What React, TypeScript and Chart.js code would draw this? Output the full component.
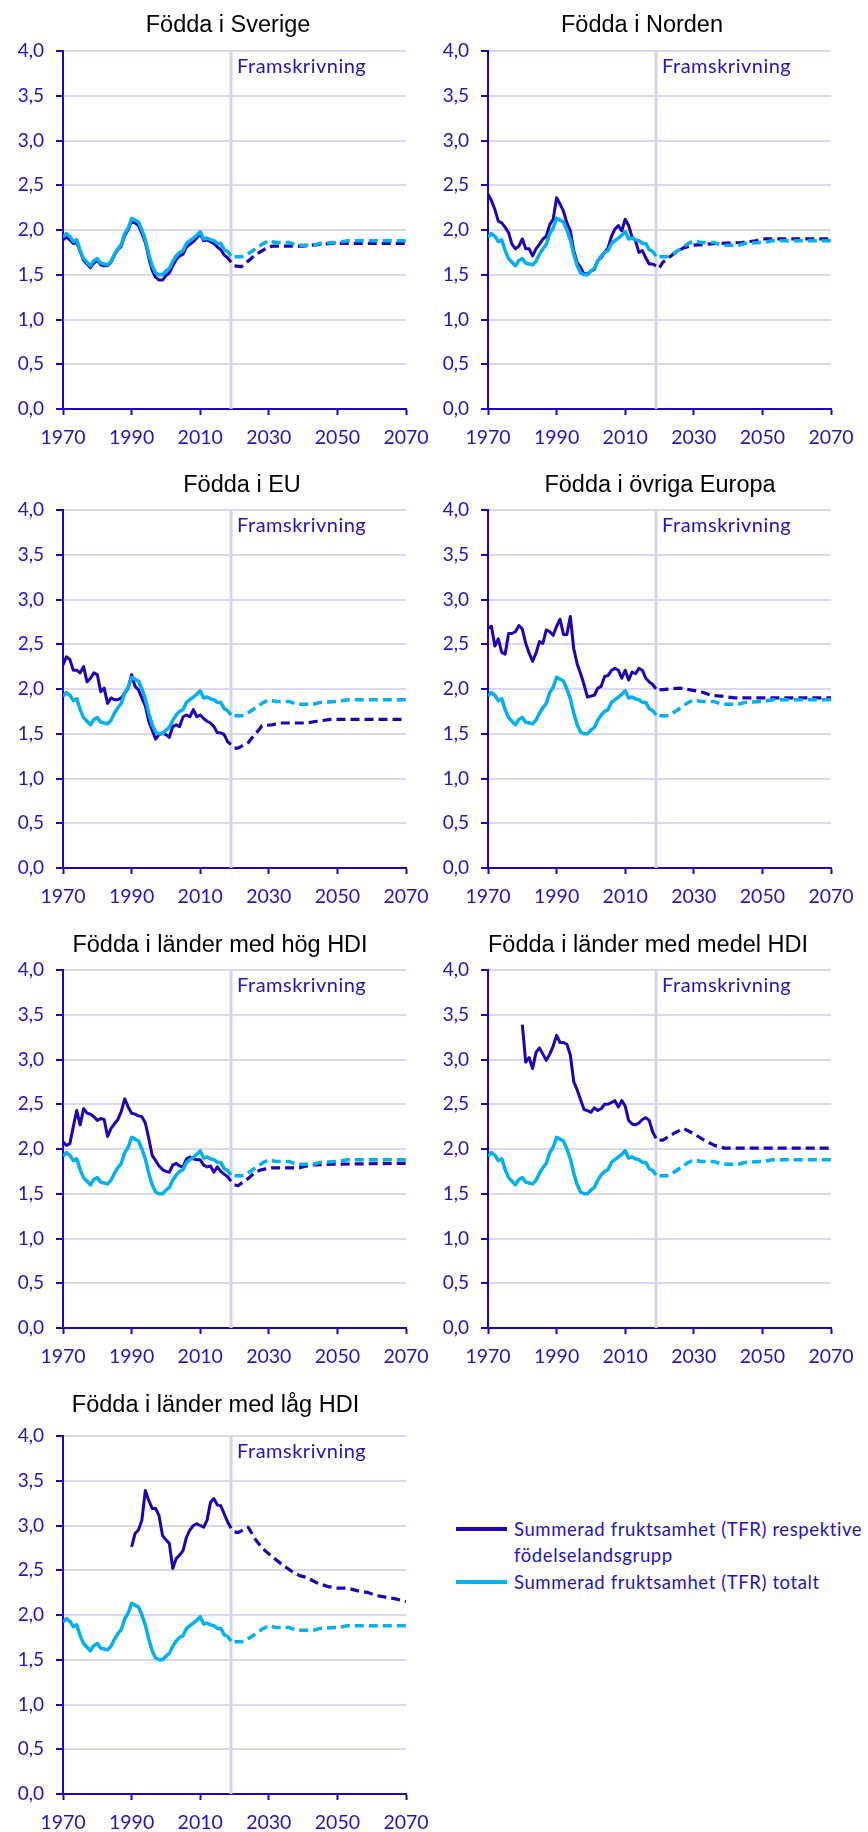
import React, { useEffect, useRef } from "react";
import { Chart, registerables } from "chart.js";

Chart.register(...registerables);

// ---------- colours ----------
const DARK = "#2200B8";
const LIGHT = "#00B0F0";
const AXIS = "#2200C8";
const TEXT = "#2412C4";
const GRID = "#D9D9F2";
const VLINE = "#D4D4EE";

// ---------- axis ----------
const X_MIN = 1970;
const X_MAX = 2070;
const X_STEP = 20;
const Y_MIN = 0;
const Y_MAX = 4;
const Y_STEP = 0.5;
const PROJECTION_START = 2019;
const PROJECTION_LABEL = "Framskrivning";

// ---------- data: total TFR (light blue) ----------
const TOTAL_HIST_START = 1970;
const TOTAL_HIST = [
  1.92, 1.96, 1.93, 1.87, 1.89, 1.77, 1.68, 1.64, 1.6, 1.66,
  1.68, 1.63, 1.62, 1.61, 1.65, 1.73, 1.79, 1.84, 1.96, 2.02,
  2.13, 2.11, 2.09, 2.0, 1.89, 1.73, 1.6, 1.52, 1.5, 1.5,
  1.54, 1.57, 1.65, 1.71, 1.75, 1.77, 1.85, 1.88, 1.91, 1.94,
  1.98, 1.9, 1.91, 1.89, 1.88, 1.85, 1.85, 1.78, 1.76, 1.71,
];
const TOTAL_PROJ_YEARS = [2020, 2022, 2023, 2025, 2028, 2030, 2032, 2036, 2038, 2043, 2045, 2050, 2053, 2070];
const TOTAL_PROJ = [1.7, 1.7, 1.71, 1.76, 1.84, 1.88, 1.86, 1.86, 1.83, 1.83, 1.85, 1.86, 1.88, 1.88];

// ---------- data: Födda i Sverige ----------
const SVERIGE_HIST_START = 1970;
const SVERIGE_HIST = [
  1.89, 1.92, 1.89, 1.85, 1.86, 1.76, 1.66, 1.62, 1.58, 1.63,
  1.66, 1.61, 1.6, 1.6, 1.64, 1.72, 1.78, 1.82, 1.94, 2.0,
  2.1, 2.08, 2.05, 1.96, 1.86, 1.69, 1.55, 1.47, 1.44, 1.44,
  1.49, 1.52, 1.6, 1.67, 1.71, 1.73, 1.81, 1.84, 1.87, 1.91,
  1.96, 1.88, 1.89, 1.87, 1.85, 1.81, 1.78, 1.72, 1.69, 1.64,
];
const SVERIGE_PROJ_YEARS = [2020, 2022, 2023, 2026, 2029, 2031, 2040, 2042, 2045, 2049, 2070];
const SVERIGE_PROJ = [1.6, 1.59, 1.62, 1.72, 1.79, 1.82, 1.82, 1.83, 1.84, 1.85, 1.85];

// ---------- data: Födda i Norden ----------
const NORDEN_HIST_START = 1970;
const NORDEN_HIST = [
  2.4, 2.33, 2.23, 2.1, 2.08, 2.03, 1.97, 1.84, 1.79, 1.82,
  1.9, 1.79, 1.79, 1.71, 1.79, 1.84, 1.9, 1.93, 2.06, 2.12,
  2.36, 2.29, 2.21, 2.08, 1.99, 1.77, 1.64, 1.58, 1.51, 1.51,
  1.54, 1.56, 1.66, 1.69, 1.75, 1.8, 1.93, 2.01, 2.05, 1.99,
  2.12, 2.05, 1.92, 1.88, 1.75, 1.77, 1.69, 1.62, 1.62, 1.6,
];
const NORDEN_PROJ_YEARS = [2020, 2021, 2024, 2027, 2030, 2037, 2044, 2048, 2050, 2070];
const NORDEN_PROJ = [1.58, 1.64, 1.73, 1.8, 1.83, 1.85, 1.86, 1.88, 1.9, 1.9];

// ---------- data: Födda i EU ----------
const EU_HIST_START = 1970;
const EU_HIST = [
  2.27, 2.36, 2.33, 2.21, 2.21, 2.18, 2.25, 2.08, 2.12, 2.18,
  2.16, 1.97, 2.01, 1.84, 1.9, 1.88, 1.88, 1.9, 1.95, 2.01,
  2.16, 2.03, 1.99, 1.9, 1.81, 1.64, 1.54, 1.44, 1.49, 1.51,
  1.49, 1.46, 1.58, 1.6, 1.58, 1.69, 1.71, 1.69, 1.77, 1.69,
  1.71, 1.67, 1.64, 1.62, 1.58, 1.51, 1.51, 1.49, 1.41, 1.38,
];
const EU_PROJ_YEARS = [2020, 2021, 2024, 2025, 2027, 2028, 2031, 2033, 2041, 2044, 2048, 2070];
const EU_PROJ = [1.34, 1.34, 1.4, 1.45, 1.54, 1.59, 1.6, 1.62, 1.62, 1.64, 1.66, 1.66];

// ---------- data: Födda i övriga Europa ----------
const OVRIGA_HIST_START = 1970;
const OVRIGA_HIST = [
  2.68, 2.7, 2.48, 2.56, 2.41, 2.39, 2.62, 2.62, 2.64, 2.71,
  2.67, 2.51, 2.4, 2.31, 2.4, 2.53, 2.51, 2.66, 2.64, 2.6,
  2.7, 2.78, 2.61, 2.61, 2.81, 2.45, 2.28, 2.17, 2.05, 1.91,
  1.92, 1.93, 2.01, 2.03, 2.14, 2.15, 2.21, 2.23, 2.21, 2.12,
  2.21, 2.1, 2.19, 2.17, 2.23, 2.21, 2.12, 2.08, 2.05, 2.0,
];
const OVRIGA_PROJ_YEARS = [2020, 2023, 2026, 2029, 2032, 2035, 2038, 2042, 2070];
const OVRIGA_PROJ = [1.99, 2.0, 2.01, 1.99, 1.97, 1.93, 1.92, 1.9, 1.9];

// ---------- data: Födda i länder med hög HDI ----------
const HOG_HIST_START = 1970;
const HOG_HIST = [
  2.08, 2.04, 2.06, 2.25, 2.43, 2.27, 2.45, 2.4, 2.39, 2.36,
  2.32, 2.34, 2.33, 2.14, 2.23, 2.28, 2.33, 2.42, 2.56, 2.47,
  2.4, 2.39, 2.37, 2.36, 2.29, 2.12, 1.93, 1.87, 1.81, 1.77,
  1.75, 1.74, 1.82, 1.84, 1.81, 1.8, 1.89, 1.91, 1.89, 1.88,
  1.88, 1.82, 1.8, 1.81, 1.74, 1.8, 1.75, 1.72, 1.69, 1.64,
];
const HOG_PROJ_YEARS = [2020, 2021, 2024, 2026, 2028, 2031, 2039, 2042, 2048, 2070];
const HOG_PROJ = [1.6, 1.59, 1.67, 1.74, 1.77, 1.79, 1.79, 1.82, 1.83, 1.84];

// ---------- data: Födda i länder med medel HDI ----------
const MEDEL_HIST_START = 1980;
const MEDEL_HIST = [
  3.39, 2.97, 3.02, 2.9, 3.08, 3.13, 3.06, 2.99, 3.06, 3.15,
  3.27, 3.19, 3.19, 3.17, 3.05, 2.75, 2.66, 2.55, 2.44, 2.43,
  2.41, 2.46, 2.43, 2.45, 2.5, 2.5, 2.52, 2.54, 2.47, 2.54,
  2.48, 2.32, 2.28, 2.27, 2.29, 2.33, 2.35, 2.32, 2.19, 2.12,
];
const MEDEL_PROJ_YEARS = [2020, 2021, 2024, 2027, 2030, 2033, 2036, 2039, 2070];
const MEDEL_PROJ = [2.1, 2.1, 2.17, 2.23, 2.17, 2.1, 2.04, 2.01, 2.01];

// ---------- data: Födda i länder med låg HDI ----------
const LAG_HIST_START = 1990;
const LAG_HIST = [
  2.76, 2.91, 2.95, 3.06, 3.39, 3.28, 3.19, 3.19, 3.11, 2.89,
  2.84, 2.8, 2.52, 2.63, 2.67, 2.72, 2.87, 2.95, 3.0, 3.02,
  3.0, 2.98, 3.06, 3.26, 3.3, 3.23, 3.22, 3.13, 3.04, 2.97,
];
const LAG_PROJ_YEARS = [2020, 2021, 2024, 2026, 2028, 2031, 2034, 2037, 2039, 2041, 2044, 2047, 2050, 2053, 2056, 2059, 2061, 2064, 2067, 2070];
const LAG_PROJ = [2.93, 2.92, 2.98, 2.85, 2.75, 2.65, 2.56, 2.48, 2.44, 2.42, 2.36, 2.32, 2.3, 2.3, 2.27, 2.25, 2.22, 2.2, 2.18, 2.15];

// ---------- panel titles ----------
const TITLES = [
  "Födda i Sverige",
  "Födda i Norden",
  "Födda i EU",
  "Födda i övriga Europa",
  "Födda i länder med hög HDI",
  "Födda i länder med medel HDI",
  "Födda i länder med låg HDI",
];

const LEGEND_GROUP = ["Summerad fruktsamhet (TFR) respektive", "födelselandsgrupp"];
const LEGEND_TOTAL = "Summerad fruktsamhet (TFR) totalt";

type Panel = {
  title: string;
  histStart: number;
  hist: number[];
  projYears: number[];
  proj: number[];
  col: number;
  top: number; // canvas top (page px)
  titleX: number; // canvas-relative
  titleBase: number; // canvas-relative baseline
};

const PANELS: Panel[] = [
  { title: TITLES[0], histStart: SVERIGE_HIST_START, hist: SVERIGE_HIST, projYears: SVERIGE_PROJ_YEARS, proj: SVERIGE_PROJ, col: 0, top: 1, titleX: 228, titleBase: 30.5 },
  { title: TITLES[1], histStart: NORDEN_HIST_START, hist: NORDEN_HIST, projYears: NORDEN_PROJ_YEARS, proj: NORDEN_PROJ, col: 1, top: 1, titleX: 208, titleBase: 30.5 },
  { title: TITLES[2], histStart: EU_HIST_START, hist: EU_HIST, projYears: EU_PROJ_YEARS, proj: EU_PROJ, col: 0, top: 460, titleX: 242, titleBase: 31.5 },
  { title: TITLES[3], histStart: OVRIGA_HIST_START, hist: OVRIGA_HIST, projYears: OVRIGA_PROJ_YEARS, proj: OVRIGA_PROJ, col: 1, top: 460, titleX: 226, titleBase: 31.5 },
  { title: TITLES[4], histStart: HOG_HIST_START, hist: HOG_HIST, projYears: HOG_PROJ_YEARS, proj: HOG_PROJ, col: 0, top: 920, titleX: 220, titleBase: 31.5 },
  { title: TITLES[5], histStart: MEDEL_HIST_START, hist: MEDEL_HIST, projYears: MEDEL_PROJ_YEARS, proj: MEDEL_PROJ, col: 1, top: 920, titleX: 214, titleBase: 31.5 },
  { title: TITLES[6], histStart: LAG_HIST_START, hist: LAG_HIST, projYears: LAG_PROJ_YEARS, proj: LAG_PROJ, col: 0, top: 1386, titleX: 215.5, titleBase: 25.5 },
];

const CANVAS_W = 434;
const PAD_TOP = 50;
const PLOT_H = 358;
const X_AXIS_H = 44;
const CANVAS_H = PAD_TOP + PLOT_H + X_AXIS_H;
const COL_YWIDTH = [63, 54];
const COL_PADRIGHT = [28, 37];

const seq = (start: number, vals: number[]) => vals.map((v, i) => ({ x: start + i, y: v }));
const pairs = (xs: number[], ys: number[]) => xs.map((x, i) => ({ x, y: ys[i] }));

const overlayPlugin = {
  id: "overlay",
  beforeDatasetsDraw(chart: any) {
    const { ctx, chartArea, scales } = chart;
    const x = scales.x.getPixelForValue(PROJECTION_START);
    ctx.save();
    ctx.strokeStyle = VLINE;
    ctx.lineWidth = 3;
    ctx.beginPath();
    ctx.moveTo(x, chartArea.top);
    ctx.lineTo(x, chartArea.bottom);
    ctx.stroke();
    ctx.fillStyle = TEXT;
    ctx.font = "20px Lato";
    try {
      (ctx as any).letterSpacing = "0.5px";
    } catch (e) {}
    ctx.textAlign = "left";
    ctx.textBaseline = "alphabetic";
    ctx.fillText(PROJECTION_LABEL, x + 6, chartArea.top + 22);
    ctx.restore();
  },
  afterDraw(chart: any, _args: any, opts: any) {
    const { ctx } = chart;
    ctx.save();
    ctx.fillStyle = "#000000";
    ctx.font = '23.5px "Liberation Sans"';
    ctx.textAlign = "center";
    ctx.textBaseline = "alphabetic";
    ctx.fillText(opts.text, opts.x, opts.y);
    ctx.restore();
  },
};

function PanelChart({ p }: { p: Panel }) {
  const ref = useRef<HTMLCanvasElement | null>(null);
  useEffect(() => {
    if (!ref.current) return;
    const yWidth = COL_YWIDTH[p.col];
    const chart = new Chart(ref.current, {
      type: "line",
      data: {
        datasets: [
          { data: seq(TOTAL_HIST_START, TOTAL_HIST), borderColor: LIGHT, borderWidth: 3.5 },
          { data: pairs(TOTAL_PROJ_YEARS, TOTAL_PROJ), borderColor: LIGHT, borderWidth: 3.5, borderDash: [9, 5] },
          { data: seq(p.histStart, p.hist), borderColor: DARK, borderWidth: 3 },
          { data: pairs(p.projYears, p.proj), borderColor: DARK, borderWidth: 3.2, borderDash: [9, 5] },
        ] as any,
      },
      options: {
        responsive: false,
        animation: false,
        events: [],
        elements: { point: { radius: 0 }, line: { tension: 0, borderCapStyle: "butt", borderJoinStyle: "round" } },
        layout: { padding: { top: PAD_TOP, right: COL_PADRIGHT[p.col], left: 0, bottom: 0 } },
        plugins: {
          legend: { display: false },
          tooltip: { enabled: false },
          overlay: { text: p.title, x: p.titleX, y: p.titleBase },
        } as any,
        scales: {
          x: {
            type: "linear",
            min: X_MIN,
            max: X_MAX,
            ticks: {
              stepSize: X_STEP,
              color: TEXT,
              font: { family: "Lato", size: 19.5 },
              padding: 11,
              maxRotation: 0,
              callback: (v: any) => String(v),
            },
            grid: { drawOnChartArea: false, tickLength: 6, tickColor: AXIS, tickWidth: 2 },
            border: { color: AXIS, width: 2 },
            afterFit: (s: any) => {
              s.height = X_AXIS_H;
              s.paddingLeft = 0;
              s.paddingRight = 0;
            },
          },
          y: {
            min: Y_MIN,
            max: Y_MAX,
            ticks: {
              stepSize: Y_STEP,
              color: TEXT,
              font: { family: "Lato", size: 19 },
              padding: 12,
              callback: (v: any) => Number(v).toFixed(1).replace(".", ","),
            },
            grid: { color: GRID, lineWidth: 2, tickLength: 7, tickColor: AXIS, tickWidth: 2 },
            border: { color: AXIS, width: 2 },
            afterFit: (s: any) => {
              s.width = yWidth;
              s.paddingTop = 0;
              s.paddingBottom = 0;
            },
          },
        },
      } as any,
      plugins: [overlayPlugin],
    });
    return () => chart.destroy();
  }, [p]);
  return (
    <canvas
      ref={ref}
      width={CANVAS_W}
      height={CANVAS_H}
      style={{ position: "absolute", left: p.col * CANVAS_W, top: p.top, width: CANVAS_W, height: CANVAS_H }}
    />
  );
}

export default function App() {
  const legendText: React.CSSProperties = {
    position: "absolute",
    left: 514,
    fontFamily: "Lato",
    fontSize: 18.5,
    letterSpacing: "0.6px",
    lineHeight: "20px",
    color: TEXT,
    whiteSpace: "nowrap",
  };
  return (
    <div style={{ position: "absolute", left: 0, top: 0, width: 868, height: 1832, background: "#fff", overflow: "hidden" }}>
      {PANELS.map((p, i) => (
        <PanelChart key={i} p={p} />
      ))}
      <div style={{ position: "absolute", left: 456, top: 1527, width: 51, height: 4, background: DARK }} />
      <div style={{ ...legendText, top: 1519 }}>{LEGEND_GROUP[0]}</div>
      <div style={{ ...legendText, top: 1545 }}>{LEGEND_GROUP[1]}</div>
      <div style={{ position: "absolute", left: 456, top: 1580, width: 51, height: 4, background: LIGHT }} />
      <div style={{ ...legendText, top: 1572 }}>{LEGEND_TOTAL}</div>
    </div>
  );
}
